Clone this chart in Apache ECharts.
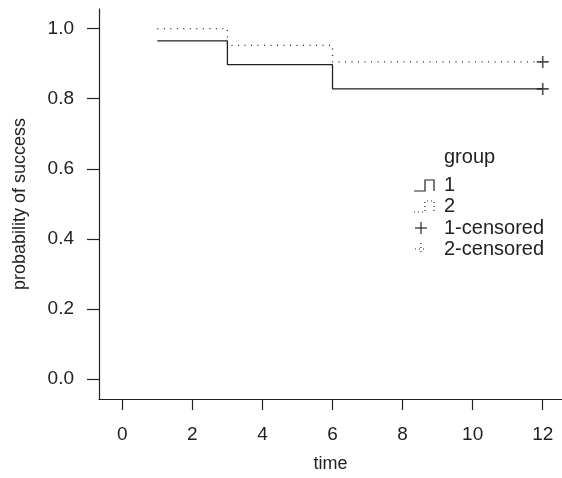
<!DOCTYPE html>
<html>
<head>
<meta charset="utf-8">
<script src="https://cdn.jsdelivr.net/npm/echarts@6/dist/echarts.min.js"></script>
<style>html,body{margin:0;padding:0;background:#fff}#c{width:562px;height:478px}</style>
</head>
<body>
<div id="c"></div>
<script>
// Data
var group1Times = [1, 3, 6, 12];
var group1Surv = [0.965, 0.897, 0.828, 0.828];
var group2Times = [1, 3, 6, 12];
var group2Surv = [1.0, 0.952, 0.905, 0.905];
var censor1 = [[12, 0.828]];
var censor2 = [[12, 0.905]];
var xTicks = [0, 2, 4, 6, 8, 10, 12];
var yTicks = [0, 0.2, 0.4, 0.6, 0.8, 1.0];
var legendTitle = 'group';
var legendLabels = ['1', '2', '1-censored', '2-censored'];

var FONT = '"Liberation Sans", Arial, Helvetica, sans-serif';
var INK = '#222';

function pairs(xs, ys) { return xs.map(function (x, i) { return [x, ys[i]]; }); }

var chart = echarts.init(document.getElementById('c'), null, { renderer: 'canvas' });

var plusPath = 'path://M0,5H10M5,0V10';

var tx = 444;
var rows = [185, 206, 228, 249];
var LF = '20px ' + FONT;
function stepIcon(cy, dash) {
  var b = cy + 6, t = cy - 5;
  return { type: 'polyline', shape: { points: [[414, b], [425, b], [425, t], [434, t], [434, b]] },
    style: { stroke: INK, lineWidth: 1.2, fill: null, lineDash: dash || null } };
}
function plusIcon(cy, dash) {
  return [
    { type: 'polyline', shape: { points: [[415, cy], [427, cy]] }, style: { stroke: INK, lineWidth: 1.2, lineDash: dash || null } },
    { type: 'polyline', shape: { points: [[421, cy - 6], [421, cy + 6]] }, style: { stroke: INK, lineWidth: 1.2, lineDash: dash || null } }
  ];
}
function label(txt, cy) {
  return { type: 'text', x: tx, y: cy, style: { text: txt, font: LF, fill: INK, verticalAlign: 'middle' } };
}
var graphics = [label(legendTitle, 157),
  stepIcon(rows[0]), label(legendLabels[0], rows[0]),
  stepIcon(rows[1], [1, 3]), label(legendLabels[1], rows[1])]
  .concat(plusIcon(rows[2]), [label(legendLabels[2], rows[2])],
          plusIcon(rows[3], [1, 3]), [label(legendLabels[3], rows[3])]);

chart.setOption({
  animation: false,
  backgroundColor: '#fff',
  textStyle: { fontFamily: FONT, color: INK },
  grid: { left: 99, right: 0, top: 9, bottom: 72, containLabel: false },
  xAxis: {
    type: 'value', min: -0.665, max: 12.55,
    name: 'time', nameLocation: 'middle', nameGap: 56,
    nameTextStyle: { fontSize: 18, color: INK, fontFamily: FONT },
    axisLine: { show: true, onZero: false, lineStyle: { color: INK, width: 1.2 } },
    axisTick: { show: true, length: 11, customValues: xTicks, lineStyle: { color: INK, width: 1.2 } },
    axisLabel: { customValues: xTicks, fontSize: 19, color: INK, margin: 26, fontFamily: FONT },
    splitLine: { show: false }
  },
  yAxis: {
    type: 'value', min: -0.057, max: 1.056,
    name: 'probability of success', nameLocation: 'middle', nameGap: 70, nameRotate: 90,
    nameTextStyle: { fontSize: 18, color: INK, fontFamily: FONT },
    axisLine: { show: true, onZero: false, lineStyle: { color: INK, width: 1.2 } },
    axisTick: { show: true, length: 12, customValues: yTicks, lineStyle: { color: INK, width: 1.2 } },
    axisLabel: { customValues: yTicks, fontSize: 19, color: INK, margin: 25, fontFamily: FONT,
      formatter: function (v) { return v.toFixed(1); } },
    splitLine: { show: false }
  },
  series: [
    { name: '1', type: 'line', step: 'end', data: pairs(group1Times, group1Surv), showSymbol: false, symbol: 'none',
      lineStyle: { color: INK, width: 1.3 } },
    { name: '2', type: 'line', step: 'end', data: pairs(group2Times, group2Surv), showSymbol: false, symbol: 'none',
      lineStyle: { color: INK, width: 1.3, type: [1, 5.5] } },
    { name: '1-censored', type: 'scatter', data: censor1, symbol: plusPath, symbolSize: 12,
      itemStyle: { color: 'transparent', borderColor: INK, borderWidth: 1.6 } },
    { name: '2-censored', type: 'scatter', data: censor2, symbol: plusPath, symbolSize: 12,
      itemStyle: { color: 'transparent', borderColor: INK, borderWidth: 1.6 } }
  ],
  graphic: graphics
});
</script>
</body>
</html>
